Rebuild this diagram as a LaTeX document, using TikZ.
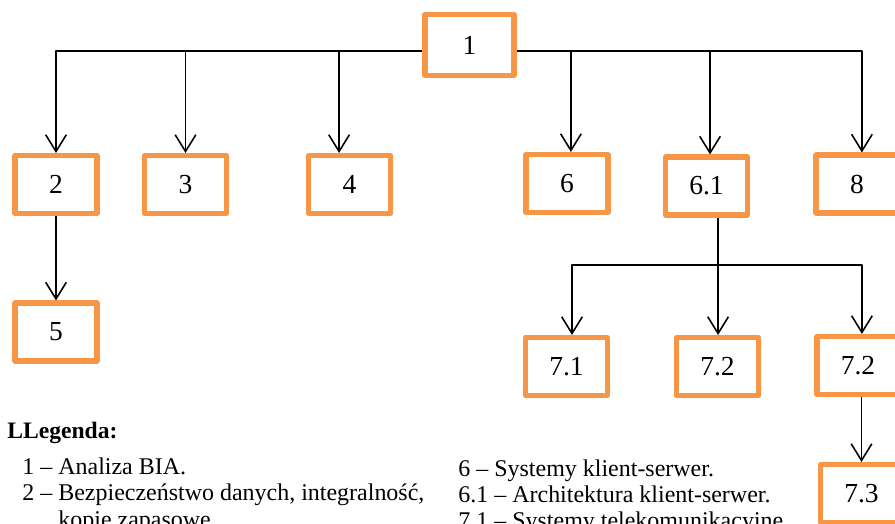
\documentclass[tikz,border=0pt]{standalone}
\usepackage{fontspec}
\setmainfont{Liberation Serif}
\usetikzlibrary{arrows.meta}
\definecolor{boxorange}{HTML}{F79646}
\tikzset{
  blok/.style={draw=boxorange,line width=2.8pt,minimum width=41.5pt,minimum height=29.3pt,
    inner sep=0pt,font=\fontsize{14}{16}\selectfont},
  strz/.style={-{Straight Barb[length=8.5pt,width=10.5pt]},line width=.8pt},
  legtxt/.style={anchor=base west,inner sep=0pt,font=\fontsize{12.2}{14}\selectfont}
}
\begin{document}
\begin{tikzpicture}[x=0.509pt,y=-0.509pt,line join=round]
\clip
 (0,0)rectangle (895,524)
;
	% bloki
	\node[blok,minimum width=45.5pt,minimum height=30.8pt] (b1) at (469.5,45) {1};
	\node[blok] (b2) at (56,184.5) {2};
	\node[blok] (b3) at (185.5,184.5) {3};
	\node[blok] (b4) at (349.5,184.5) {4};
	\node[blok] (b6) at (567,183.5) {6};
	\node[blok] (b61) at (706.5,186) {6.1};
	\node[blok] (b8) at (857,184) {8};
	\node[blok] (b5) at (56,332) {5};
	\node[blok] (b71) at (566.5,366.5) {7.1};
	\node[blok] (b72) at (717.5,366.5) {7.2};
	\node[blok] (b72r) at (858,365.5) {7.2};
	\node[blok] (b73) at (861.5,493.5) {7.3};
	% polaczenia
	\coordinate (s1) at (0,51);
	\coordinate (s2) at (0,265);
	\coordinate (k4) at ([xshift=-5.3pt]b4.north);
	\coordinate (k6) at ([xshift=2pt]b6.north);
	\coordinate (k61) at ([xshift=1.8pt]b61.north);
	\coordinate (k8) at ([xshift=2.5pt]b8.north);
	\coordinate (d61) at ([xshift=5.9pt]b61.south);
	\coordinate (k71) at ([xshift=2.8pt]b71.north);
	\coordinate (k72r) at ([xshift=2pt]b72r.north);
	\draw[strz] (b1.west|-s1) -| (b2.north);
	\draw[strz] (b3.north|-s1) -- (b3.north);
	\draw[strz] (k4|-s1) -- (k4);
	\draw[strz] (b1.east|-s1) -| (k8);
	\draw[strz] (k6|-s1) -- (k6);
	\draw[strz] (k61|-s1) -- (k61);
	\draw[strz] (b2.south) -- (b5.north);
	\draw[strz] (d61) -- (d61|-s2) -| (k71);
	\draw[strz] (d61|-s2) -| (k72r);
	\draw[strz] (d61|-s2) -- (b72.north-|d61);
	\draw[strz] (b72r.south-|b73.north) -- (b73.north);
	% legenda
	\node[legtxt,font=\fontsize{12}{14}\selectfont\bfseries] (leg) at (7,439) {LLegenda:};
	\node[legtxt] (l1) at (22,475) {1 – Analiza BIA.};
	\node[legtxt] (l2) at (22,501) {2 – Bezpieczeństwo danych, integralność,};
	\node[legtxt] (l2b) at (58,527) {kopie zapasowe.};
	\node[legtxt] (l6) at (458,477) {6 – Systemy klient-serwer.};
	\node[legtxt] (l61) at (458,503) {6.1 – Architektura klient-serwer.};
	\node[legtxt] (l71) at (458,529) {7.1 – Systemy telekomunikacyjne.};
\end{tikzpicture}
\end{document}
